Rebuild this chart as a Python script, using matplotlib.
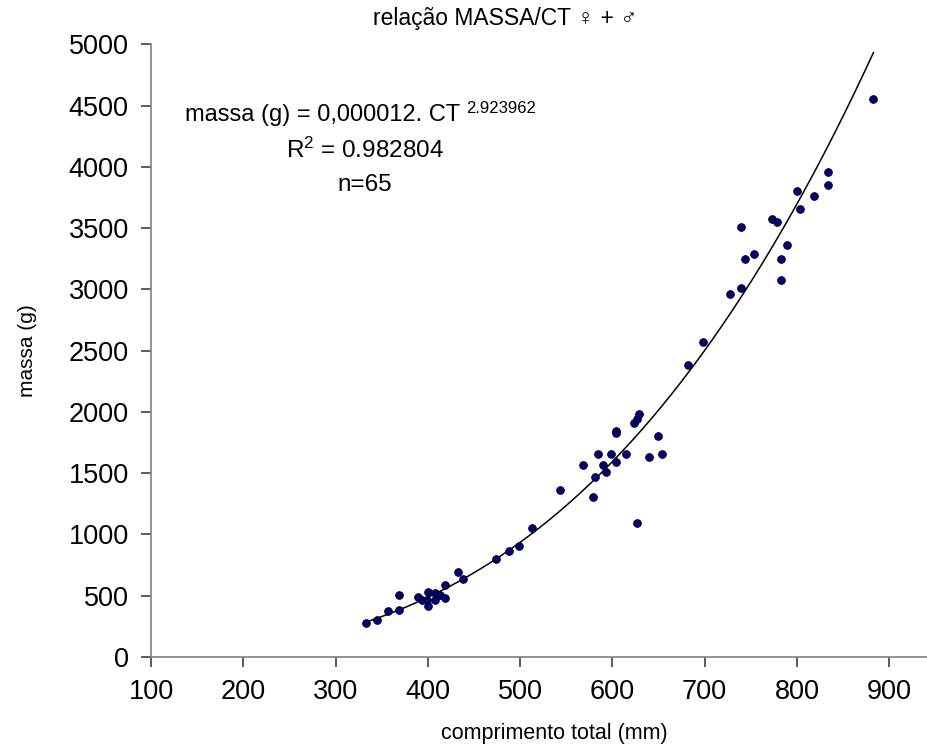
import numpy as np
import matplotlib
matplotlib.use('Agg')
import matplotlib.pyplot as plt
from matplotlib import font_manager

# comprimento total (mm) e massa (g)
ct = [333, 345, 357, 369, 369, 389, 394, 399, 400, 400, 408, 408, 413, 419, 419, 433, 438,
      474, 488, 499, 513, 543, 568, 579, 581, 584, 590, 593, 599, 604, 604, 604, 615,
      623, 627, 627, 629, 640, 649, 654,
      682, 698, 728, 739, 739, 744, 753, 773, 778, 783, 783, 789, 800, 803,
      818, 834, 834, 883]
massa = [278, 304, 373, 384, 506, 492, 468, 468, 533, 414, 520, 465, 509, 479, 588, 694, 639,
         802, 865, 909, 1056, 1363, 1565, 1309, 1469, 1660, 1565, 1510, 1660, 1592, 1845, 1831, 1660,
         1913, 1940, 1096, 1981, 1633, 1807, 1660,
         2384, 2569, 2958, 3012, 3508, 3251, 3292, 3576, 3548, 3251, 3078, 3361, 3800, 3655,
         3760, 3960, 3850, 4553]

# parâmetros da curva de potência
coef_a = 0.000012
coef_b = 2.923962
r2 = 0.982804
n = 65

names = {f.name for f in font_manager.fontManager.ttflist}
base = 'Liberation Sans Narrow' if 'Liberation Sans Narrow' in names else 'Liberation Sans'
plt.rcParams['font.family'] = [base, 'DejaVu Sans']
plt.rcParams['mathtext.fontset'] = 'custom'
plt.rcParams['mathtext.rm'] = base
plt.rcParams['mathtext.it'] = base
plt.rcParams['mathtext.default'] = 'regular'

fig = plt.figure(figsize=(9.27, 7.51), dpi=100)
ax = fig.add_axes([0.1629, 0.1252, 0.8371, 0.8159])

x_fit = np.linspace(min(ct), max(ct), 300)
ax.plot(x_fit, coef_a * x_fit ** coef_b, color='black', lw=1.1, zorder=2)
ax.scatter(ct, massa, s=30, color='#000080', edgecolors='black', linewidths=0.7, zorder=3)

ax.set_xlim(100, 941)
ax.set_ylim(0, 5000)
ax.set_xticks(range(100, 1000, 100))
ax.set_yticks(range(0, 5001, 500))

for s in ['top', 'right']:
    ax.spines[s].set_visible(False)
for s in ['left', 'bottom']:
    ax.spines[s].set_color('#808080')
    ax.spines[s].set_linewidth(1.2)
ax.tick_params(direction='out', length=7, width=1.2, color='#404040',
               labelsize=19.5, pad=9)

ax.set_xlabel('comprimento total (mm)', fontsize=15.5)
ax.xaxis.set_label_coords(0.52, -0.108)
ax.set_ylabel('massa (g)', fontsize=15)
ax.yaxis.set_label_coords(-0.147, 0.5)
fig.text(0.545, 0.976, 'relação MASSA/CT ♀ + ♂', ha='center', va='center', fontsize=16.5)

# equação da curva com o expoente como sobrescrito
eq = ax.text(0.044, 0.885, 'massa (g) = 0,000012. CT', transform=ax.transAxes,
             fontsize=17, ha='left', va='center')
ax.annotate('%.6f' % coef_b, xy=(1, 0.8), xycoords=eq, xytext=(4, 0),
            textcoords='offset points', fontsize=12, ha='left', va='center')
ax.text(0.276, 0.8275, r'R$^2$ = %.6f' % r2, transform=ax.transAxes,
        fontsize=17.5, ha='center', va='center')
ax.text(0.276, 0.770, 'n=%d' % n, transform=ax.transAxes,
        fontsize=17.5, ha='center', va='center')

plt.savefig('out.png', dpi=100)
